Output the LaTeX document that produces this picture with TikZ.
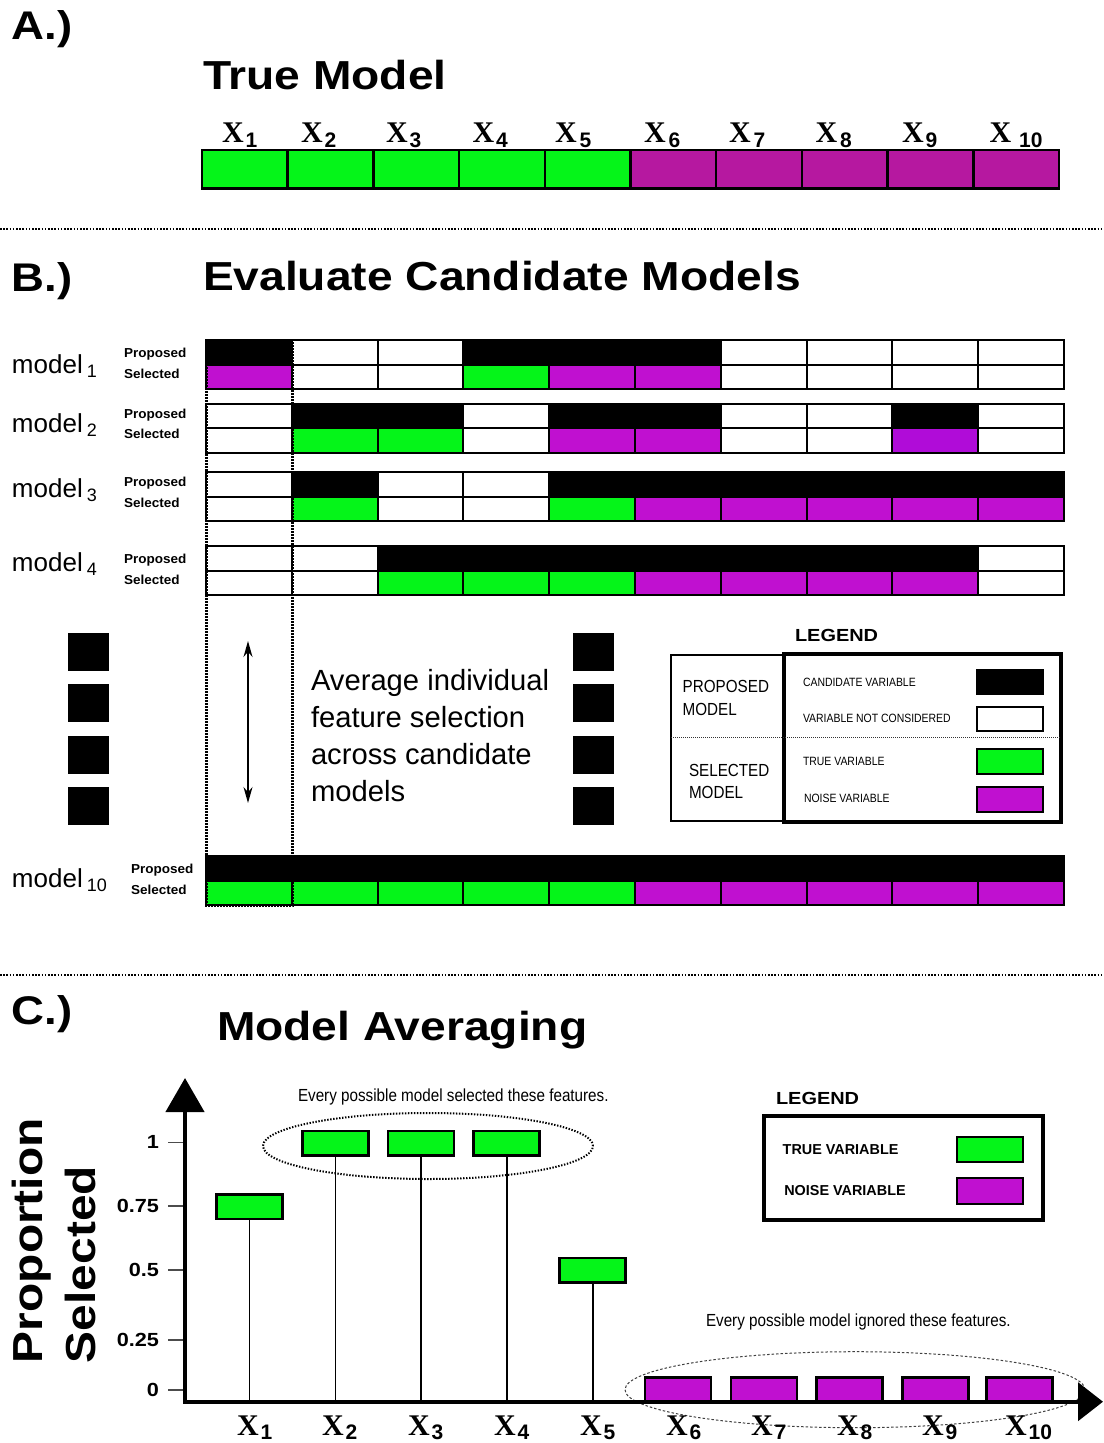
\documentclass[tikz,border=0pt]{standalone}
\usepackage{fontspec}
\usepackage{graphicx}
\setmainfont{Liberation Sans}
\newfontfamily\xserif{Liberation Serif}
\usetikzlibrary{arrows.meta}

\definecolor{cK}{RGB}{0,0,0}
\definecolor{cW}{RGB}{255,255,255}
\definecolor{cG}{RGB}{5,245,25}
\definecolor{cP}{RGB}{192,16,208}
\definecolor{cQ}{RGB}{176,12,216}
\definecolor{cA}{RGB}{182,24,160}

% heavy display type, widened bold sans
\newcommand\heavy[2]{{\fontsize{#1}{#1}\selectfont\bfseries\scalebox{1.14}[1]{#2}}}
% condensed plain sans
\newcommand\slim[2]{{\fontsize{#1}{#1}\selectfont\scalebox{0.87}[1]{#2}}}
% variable label X with lowered index
\newcommand\xvar[3][-5pt]{{\xserif\bfseries\fontsize{30}{30}\selectfont X}\hspace{#2}\raisebox{#1}{\fontsize{21}{21}\selectfont\bfseries #3}}
% model label with lowered index
\newcommand\modelname[1]{{\fontsize{26}{26}\selectfont model}\hspace{4pt}\raisebox{-4pt}{\fontsize{18}{18}\selectfont #1}}
% one row of ten cells of the candidate grid
\newcommand\cellrow[2]{\foreach \cc [count=\i from 0] in {#2}{\filldraw[cellline, fill=\cc] ({206+\i*85.8},#1) rectangle ++(85.8,24.5);}}

\begin{document}
\begin{tikzpicture}[x=1pt,y=-1pt,
  txt/.style={inner sep=0pt, outer sep=0pt},
  cellline/.style={draw=black, line width=2pt},
  sepline/.style={line width=2pt, dash pattern=on 1.6pt off 1.6pt},
  colframe/.style={line width=3pt, dash pattern=on 2pt off 1pt},
  swatch/.style={draw=black, line width=2pt},
  bar/.style={draw=black, line width=2.5pt, minimum width=66pt, minimum height=24.5pt, inner sep=0pt, outer sep=0pt},
  stem/.style={line width=1.6pt},
  tick/.style={line width=1.5pt, draw=black!70},
  small/.style={txt, font=\fontsize{13}{13}\selectfont\bfseries},
]
\useasboundingbox (0,0) rectangle (1103,1443);
\fill[white] (0,0) rectangle (1103,1443);

% ---------------- A: true model ----------------
\node[txt, anchor=base west] (lblA) at (12,39) {\heavy{40}{A.)}};
\node[txt, anchor=base west] (titleA) at (203,89) {\heavy{40.5}{True Model}};
\foreach \cc [count=\i from 0] in {cG,cG,cG,cG,cG,cA,cA,cA,cA,cA}
  \filldraw[draw=black, line width=2.5pt, fill=\cc] ({202+\i*85.7},150) rectangle ++(85.7,38.5);
\foreach \xx/\s/\g in {222/1/2pt,301/2/2pt,386/3/2pt,472.5/4/2pt,555/5/3pt,644/6/3pt,729/7/3pt,815.5/8/3pt,902/9/2pt,989.5/10/8pt}
  \node[txt, anchor=base west] (xa\s) at (\xx,142) {\xvar{\g}{\s}};

\coordinate (sepA1) at (0,229);
\coordinate (sepA2) at (1103,229);
\draw[sepline] (sepA1) -- (sepA2);

% ---------------- B: candidate models ----------------
\node[txt, anchor=base west] (lblB) at (12,291) {\heavy{40}{B.)}};
\node[txt, anchor=base west] (titleB) at (203,290) {\heavy{40.5}{Evaluate Candidate Models}};

\cellrow{340}{cK,cW,cW,cK,cK,cK,cW,cW,cW,cW}
\cellrow{364.5}{cP,cW,cW,cG,cP,cP,cW,cW,cW,cW}
\cellrow{403.5}{cW,cK,cK,cW,cK,cK,cW,cW,cK,cW}
\cellrow{428}{cW,cG,cG,cW,cP,cP,cW,cW,cQ,cW}
\cellrow{472}{cW,cK,cW,cW,cK,cK,cK,cK,cK,cK}
\cellrow{496.5}{cW,cG,cW,cW,cG,cP,cP,cP,cP,cP}
\cellrow{546}{cW,cW,cK,cK,cK,cK,cK,cK,cK,cW}
\cellrow{570.5}{cW,cW,cG,cG,cG,cP,cP,cP,cP,cW}
\cellrow{856}{cK,cK,cK,cK,cK,cK,cK,cK,cK,cK}
\cellrow{880.5}{cG,cG,cG,cG,cG,cP,cP,cP,cP,cP}

\foreach \m/\yb/\yp/\ys/\xs in {1/373/357/378/124, 2/432/418/438/124, 3/497/486/507/124, 4/571/563/584/124, 10/887/873/894/131}{
  \node[txt, anchor=base west] (model\m) at (12,\yb) {\modelname{\m}};
  \node[small, anchor=base west] (prop\m) at (\xs,\yp) {\scalebox{1.04}[1]{Proposed}};
  \node[small, anchor=base west] (sel\m) at (\xs,\ys) {\scalebox{1.04}[1]{Selected}};
}

% first feature column, followed through all models
\coordinate (colA) at (206,340);
\coordinate (colB) at (292,905);
\draw[colframe] (colA) rectangle (colB);

% ellipsis blocks
\foreach \yy/\hh in {632.7/38,684/37.7,736/38,787/38}{
  \fill (67.7,\yy) rectangle ++(41.3,\hh);
  \fill (573,\yy) rectangle ++(41,\hh);
}
\coordinate (arrtop) at (248,641);
\coordinate (arrbot) at (248,803);
\draw[line width=1.5pt, {Stealth[length=16pt,width=9pt]}-{Stealth[length=16pt,width=9pt]}] (arrtop) -- (arrbot);
\node[txt, anchor=north west, align=left, font=\fontsize{29.2}{37}\selectfont] (avgtext) at (311,669)
  {Average individual\\feature selection\\across candidate\\models};

% legend of the grid
\node[txt, anchor=base west] (legB) at (795,641.7) {\heavy{17.5}{LEGEND}};
\draw[line width=2pt] (670.7,655) rectangle (784,821);
\draw[line width=4pt] (784,654) rectangle (1061,821.7);
\draw[line width=1pt, dash pattern=on 1pt off 1pt, draw=black!80] (671,737.7) -- (1061,737.7);
\node[txt, anchor=base west] (lp1) at (682.7,692.7) {\slim{17.5}{PROPOSED}};
\node[txt, anchor=base west] (lp2) at (682.7,715) {\slim{17.5}{MODEL}};
\node[txt, anchor=base west] (ls1) at (689,776) {\slim{17.5}{SELECTED}};
\node[txt, anchor=base west] (ls2) at (689,798) {\slim{17.5}{MODEL}};
\node[txt, anchor=base west] (lk) at (803,686.7) {\slim{12}{CANDIDATE VARIABLE}};
\node[txt, anchor=base west] (lw) at (803,722.7) {\slim{12}{VARIABLE NOT CONSIDERED}};
\node[txt, anchor=base west] (lg) at (803,765.7) {\slim{12}{TRUE VARIABLE}};
\node[txt, anchor=base west] (ln) at (804,802.7) {\slim{12}{NOISE VARIABLE}};
\filldraw[swatch, fill=cK] (976.7,670) rectangle (1042.7,694.3);
\filldraw[swatch, fill=cW] (976.7,706.7) rectangle (1042.7,731);
\filldraw[swatch, fill=cG] (976.7,749.3) rectangle (1042.7,774.3);
\filldraw[swatch, fill=cP] (976.7,786.7) rectangle (1042.7,812);

\coordinate (sepB1) at (0,975);
\coordinate (sepB2) at (1103,975);
\draw[sepline] (sepB1) -- (sepB2);

% ---------------- C: model averaging ----------------
\node[txt, anchor=base west] (lblC) at (12,1024) {\heavy{40}{C.)}};
\node[txt, anchor=base west] (titleC) at (217,1040) {\heavy{40.5}{Model Averaging}};

\node[txt, rotate=90, anchor=north west, align=left, font=\fontsize{42}{53}\selectfont\bfseries] (ylab) at (12,1363)
  {\scalebox{1.14}[1]{Proportion}\\\scalebox{1.14}[1]{Selected}};

\coordinate (origin) at (185,1401.7);
\coordinate (ytip) at (185,1078);
\coordinate (xtip) at (1103,1401.7);

% ticks and their values
\foreach \yy/\v/\n in {1142.3/1/t4, 1206/0.75/t3, 1270/0.5/t2, 1340/0.25/t1, 1390/0/t0}{
  \draw[tick] (168,\yy) -- (185,\yy);
  \node[txt, anchor=east] (\n) at (159,\yy) {\heavy{19}{\v}};
}

% groups of features
\draw[line width=2pt, dash pattern=on 1.4pt off 1.6pt] (428,1146) ellipse [x radius=165pt, y radius=33pt];
\draw[line width=1pt, dash pattern=on 2.5pt off 2pt, draw=black!75] (855,1389.7) ellipse [x radius=230pt, y radius=38pt];

\node[txt, anchor=base west] (selnote) at (298,1101.7) {\slim{17.5}{Every possible model selected these features.}};
\node[txt, anchor=base west] (ignnote) at (706,1326.7) {\slim{17.5}{Every possible model ignored these features.}};

% proportions
\foreach \i/\xx/\yy/\cc in {1/249.5/1206.7/cG, 2/335.3/1143/cG, 3/421.2/1143/cG, 4/506.7/1143/cG, 5/592.7/1270/cG,
                            6/678/1389.7/cP, 7/763.9/1389.7/cP, 8/849.7/1389.7/cP, 9/935.3/1389.7/cP, 10/1019.5/1389.7/cP}
  \node[bar, fill=\cc] (bar\i) at (\xx,\yy) {};
\foreach \i in {1,...,5}
  \draw[stem] (bar\i.south) -- (bar\i.south |- origin);

% axes
\draw[line width=4.5pt, -{Triangle[length=34pt,width=38pt]}] (origin) -- (ytip);
\draw[line width=4pt, -{Triangle[length=25pt,width=38pt]}] ([xshift=-2pt]origin) -- (xtip);

\foreach \i/\xx in {1/237,2/322,3/408,4/494,5/580,6/666,7/751,8/837,9/922,10/1005}
  \node[txt, anchor=base west] (xc\i) at (\xx,1435.5) {\xvar[-4pt]{2pt}{\i}};

% legend of the averages
\node[txt, anchor=base west] (legC) at (776,1104) {\heavy{17.5}{LEGEND}};
\draw[line width=4pt] (764,1116) rectangle (1042.7,1220);
\node[txt, anchor=base west, font=\fontsize{14.4}{14.4}\selectfont\bfseries] (lgC) at (782.7,1154) {TRUE VARIABLE};
\node[txt, anchor=base west, font=\fontsize{14.4}{14.4}\selectfont\bfseries] (lnC) at (784.3,1195) {NOISE VARIABLE};
\filldraw[swatch, fill=cG] (956.7,1137.3) rectangle (1023.3,1162.3);
\filldraw[swatch, fill=cP] (956.7,1178.3) rectangle (1023.3,1204);
\end{tikzpicture}
\end{document}
